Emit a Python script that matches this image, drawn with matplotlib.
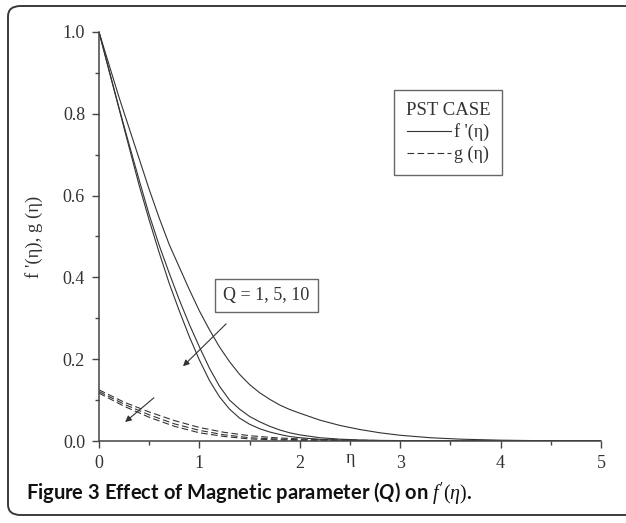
import matplotlib
matplotlib.use('Agg')
import matplotlib.pyplot as plt
from matplotlib.patches import FancyBboxPatch
from matplotlib.ticker import MultipleLocator, FormatStrFormatter

plt.rcParams['font.family'] = ['Liberation Serif', 'DejaVu Serif']
plt.rcParams['mathtext.fontset'] = 'custom'
plt.rcParams['mathtext.rm'] = 'Liberation Serif'
plt.rcParams['mathtext.it'] = 'Liberation Serif:italic'
plt.rcParams['mathtext.bfit'] = 'Lato:italic:bold'

# f'(eta) для Q = 1, 5, 10
eta_f = [0, 0.1, 0.2, 0.3, 0.4, 0.5, 0.6, 0.7, 0.8, 0.9, 1.0, 1.1, 1.2, 1.3, 1.4,
         1.5, 1.6, 1.7, 1.8, 1.9, 2.0, 2.2, 2.4, 2.6, 2.8, 3.0, 3.3, 3.6, 4.0, 4.5, 5.0]
f_q1 = [1.0, 0.92, 0.84, 0.765, 0.69, 0.615, 0.545, 0.48, 0.425, 0.37, 0.318, 0.272,
        0.23, 0.194, 0.163, 0.138, 0.118, 0.102, 0.088, 0.077, 0.068, 0.051, 0.038,
        0.028, 0.02, 0.014, 0.008, 0.0045, 0.002, 0.0005, 0.0]
f_q5 = [1.0, 0.907, 0.814, 0.725, 0.638, 0.553, 0.478, 0.41, 0.345, 0.285, 0.23,
        0.178, 0.134, 0.1, 0.078, 0.06, 0.047, 0.036, 0.027, 0.02, 0.015, 0.008,
        0.0045, 0.0025, 0.0015, 0.001, 0.0004, 0.0, 0.0, 0.0, 0.0]
f_q10 = [1.0, 0.905, 0.812, 0.718, 0.625, 0.54, 0.46, 0.385, 0.318, 0.255, 0.198,
         0.148, 0.108, 0.078, 0.056, 0.041, 0.03, 0.022, 0.016, 0.011, 0.008, 0.004,
         0.002, 0.001, 0.0005, 0.0, 0.0, 0.0, 0.0, 0.0, 0.0]

# g(eta) для Q = 1, 5, 10
eta_g = [0, 0.25, 0.5, 0.75, 1.0, 1.25, 1.5, 1.75, 2.0, 2.5, 3.0, 4.0, 5.0]
g_q1 = [0.125, 0.095, 0.071, 0.050, 0.033, 0.021, 0.013, 0.008, 0.005, 0.002, 0.0005, 0.0, 0.0]
g_q5 = [0.121, 0.090, 0.064, 0.042, 0.026, 0.015, 0.008, 0.005, 0.003, 0.001, 0.0, 0.0, 0.0]
g_q10 = [0.117, 0.085, 0.058, 0.036, 0.020, 0.011, 0.005, 0.003, 0.0015, 0.0, 0.0, 0.0, 0.0]

ink = '#333333'

fig = plt.figure(figsize=(6.26, 5.23), dpi=100)
ax = fig.add_axes([99 / 626, 82 / 523, 502 / 626, 409 / 523])

# рамка вокруг рисунка
frame = FancyBboxPatch((8 / 626, 8 / 523), 660 / 626, 509 / 523,
                       boxstyle='round,pad=0,rounding_size=0.02',
                       transform=fig.transFigure, fill=False,
                       edgecolor='#3a3a3a', linewidth=1.4)
fig.patches.append(frame)

for i, fy in enumerate([f_q1, f_q5, f_q10]):
    ax.plot(eta_f, fy, color=ink, lw=0.8, label="f '(η)" if i == 0 else None)
for i, gy in enumerate([g_q1, g_q5, g_q10]):
    ax.plot(eta_g, gy, color=ink, lw=0.8, linestyle=(0, (6, 3)),
            label='g (η)' if i == 0 else None)

ax.set_xlim(0, 5)
ax.set_ylim(0, 1.0)
ax.spines['top'].set_visible(False)
ax.spines['right'].set_visible(False)
for s in ['left', 'bottom']:
    ax.spines[s].set_color('#444444')
    ax.spines[s].set_linewidth(1.1)

ax.xaxis.set_major_locator(MultipleLocator(1))
ax.xaxis.set_minor_locator(MultipleLocator(0.5))
ax.yaxis.set_major_locator(MultipleLocator(0.2))
ax.yaxis.set_minor_locator(MultipleLocator(0.1))
ax.xaxis.set_major_formatter(FormatStrFormatter('%d'))
ax.yaxis.set_major_formatter(FormatStrFormatter('%.1f'))
ax.tick_params(which='major', direction='out', length=5, width=1, color='#444444',
               labelsize=13, labelcolor=ink, pad=5)
ax.tick_params(which='minor', direction='out', length=3, width=1, color='#444444')

ax.set_xlabel('η', fontsize=13, color=ink, labelpad=-16)
ax.set_ylabel("f '(η), g (η)", fontsize=13.5, color=ink, labelpad=14)

leg = ax.legend(title='PST CASE', loc='upper left', bbox_to_anchor=(0.588, 0.858),
                borderaxespad=0, fontsize=13, title_fontsize=13.5, handlelength=2.4,
                handletextpad=0.2, labelspacing=0.25, fancybox=False,
                edgecolor='#666666', framealpha=1, borderpad=0.65)
leg.get_frame().set_linewidth(1.0)
for t in leg.get_texts():
    t.set_color(ink)
leg.get_title().set_color(ink)

ax.text(1.668, 0.355, 'Q = 1, 5, 10', fontsize=13, color=ink, ha='center', va='center',
        bbox=dict(boxstyle='square,pad=0.45', fc='white', ec='#666666', lw=1.0))

ax.annotate('', xy=(0.817, 0.178), xytext=(1.285, 0.291),
            arrowprops=dict(arrowstyle='-|>', color=ink, lw=0.8, mutation_scale=9))
ax.annotate('', xy=(0.239, 0.042), xytext=(0.568, 0.110),
            arrowprops=dict(arrowstyle='-|>', color=ink, lw=0.8, mutation_scale=9))

fig.text(26 / 626, 24 / 523,
         r"Figure 3 Effect of Magnetic parameter ($\mathbfit{Q}$) on $f^{\prime}(\eta)$.",
         fontsize=14.5, fontfamily='Lato', fontweight='bold', color='#111111',
         va='baseline', ha='left')

fig.savefig('out.png', dpi=100)
print('saved out.png')
